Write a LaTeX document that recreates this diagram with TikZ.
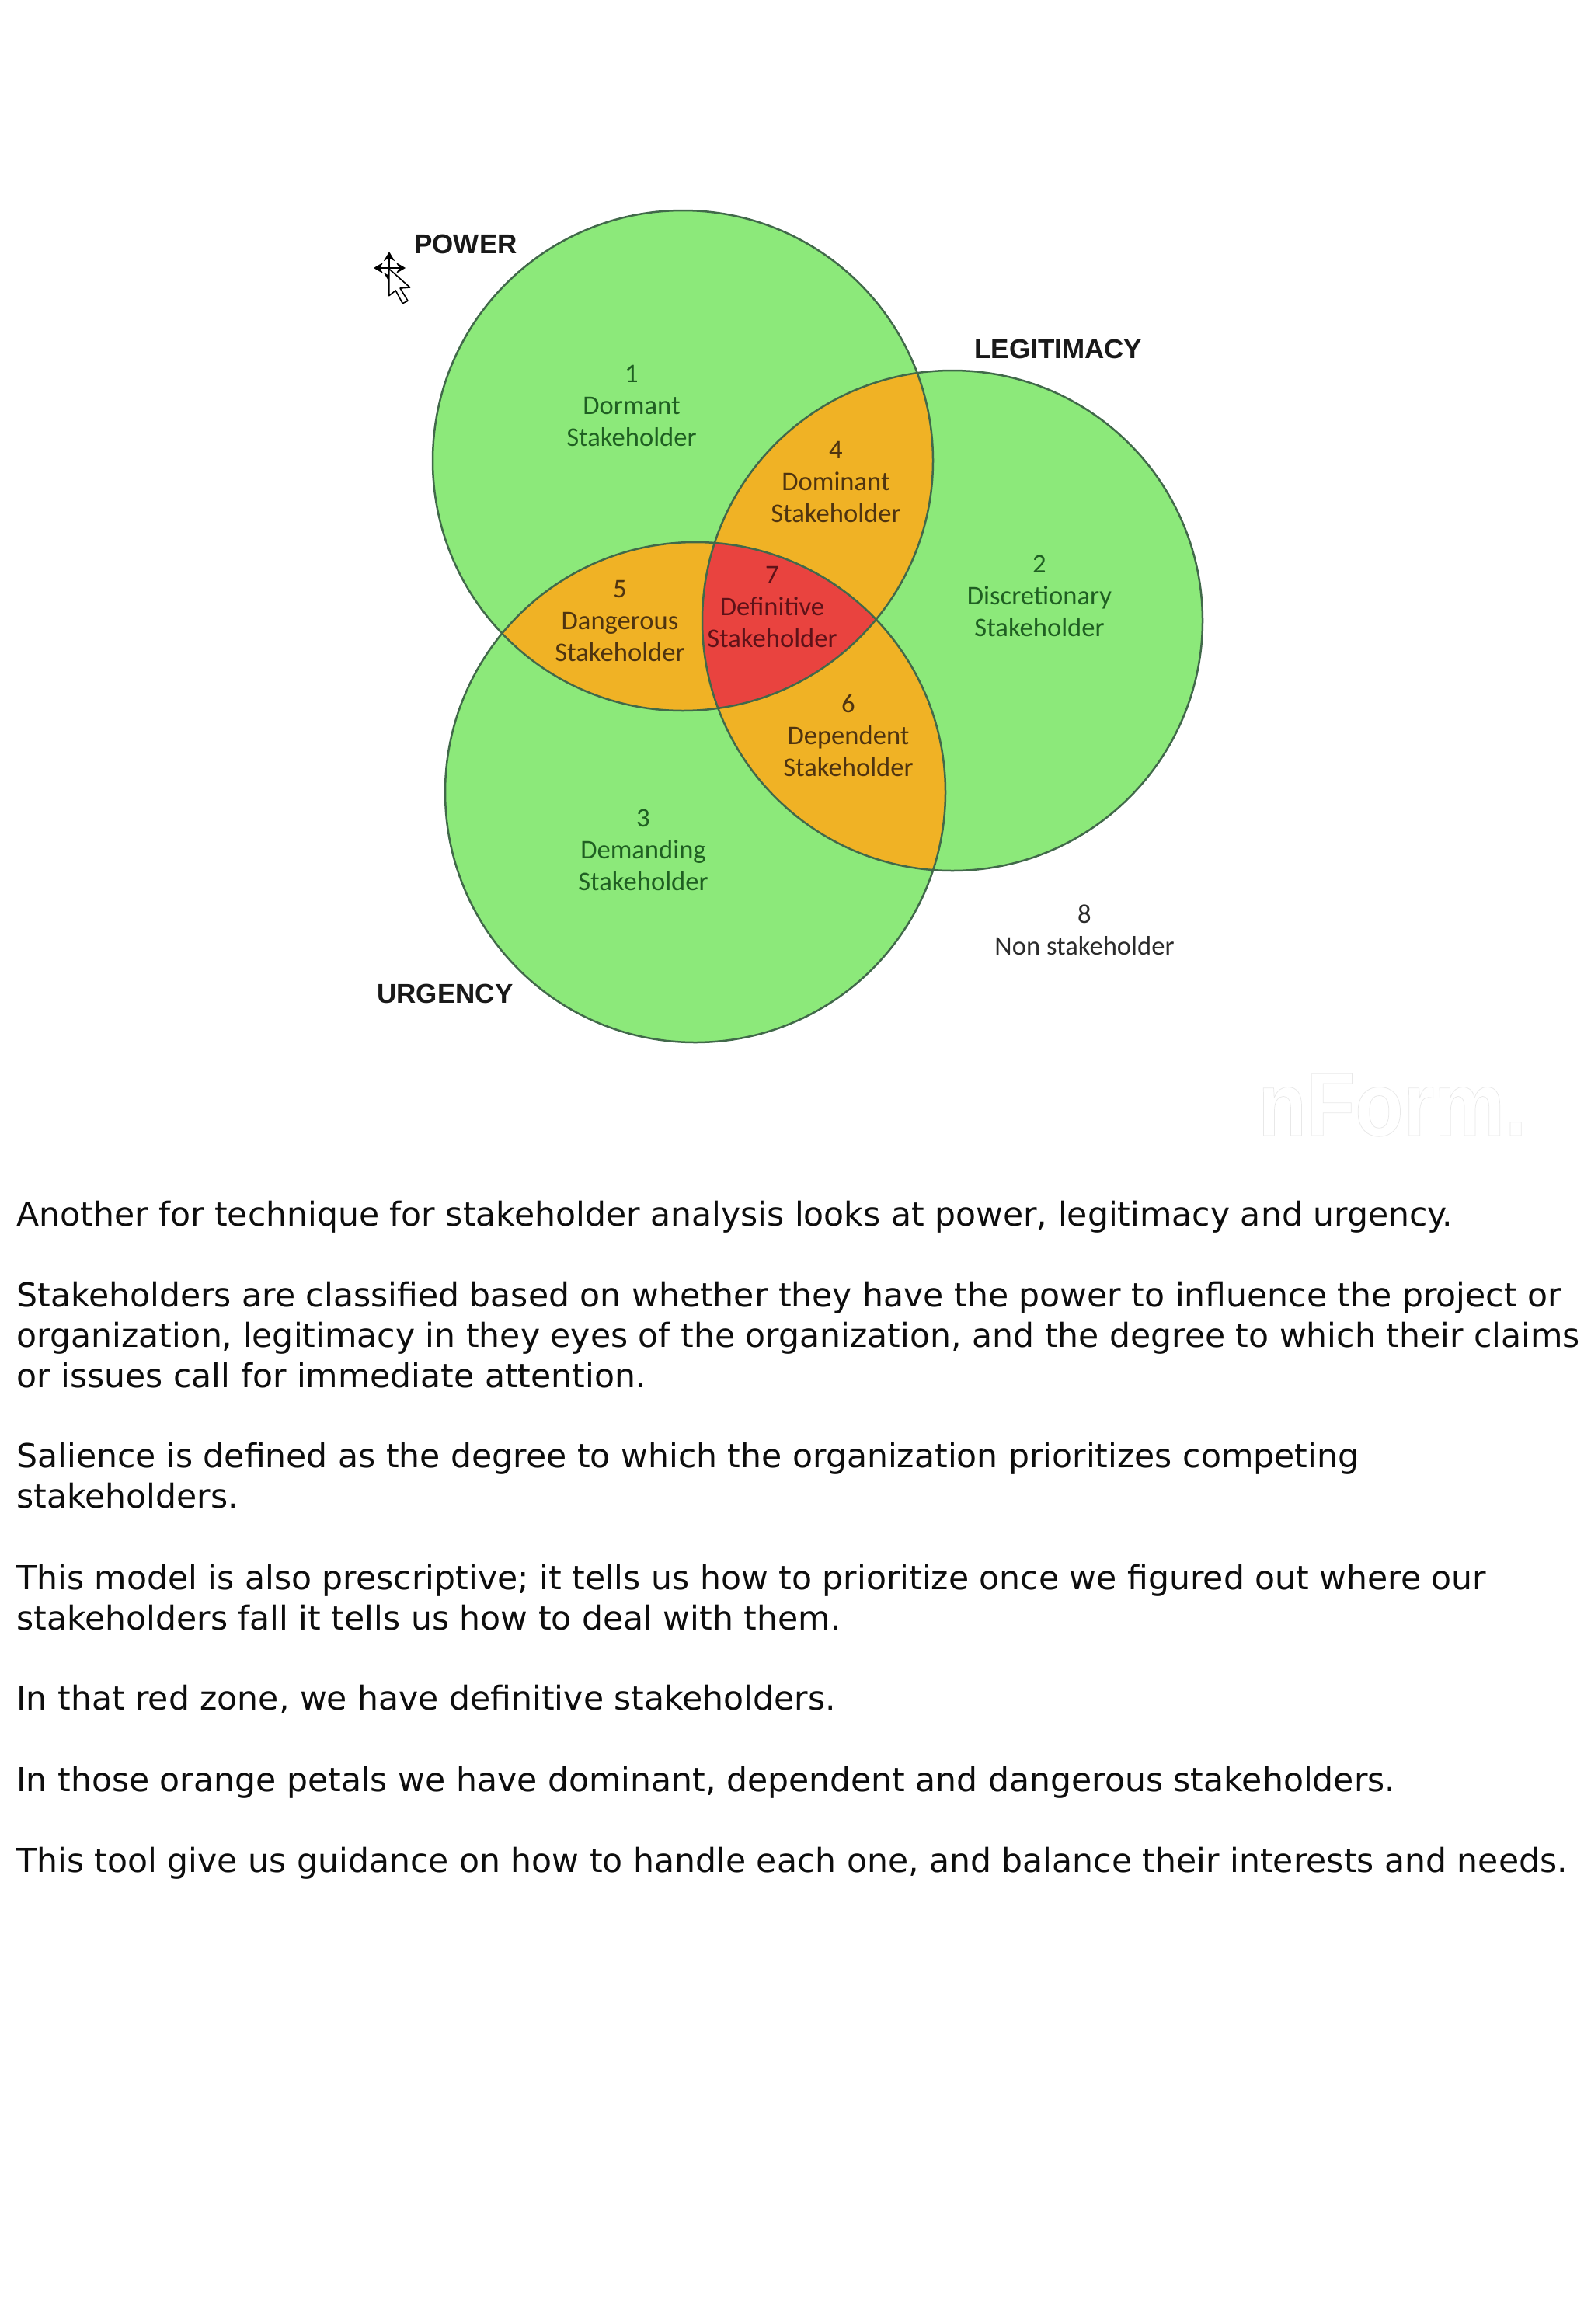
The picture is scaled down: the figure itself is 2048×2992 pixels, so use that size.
\documentclass[tikz,border=0pt]{standalone}
\usepackage{fontspec}
\setmainfont{DejaVu Sans}
\newfontfamily\lblfont{Carlito}
\newfontfamily\headfont{Liberation Sans}[BoldFont={Liberation Sans Bold}]
\usetikzlibrary{arrows.meta}
\definecolor{vgreen}{HTML}{8CE97A}
\definecolor{vorange}{HTML}{F0B225}
\definecolor{vred}{HTML}{E9433F}
\definecolor{vline}{HTML}{41694A}
\definecolor{tgreen}{HTML}{1F5F22}
\definecolor{torange}{HTML}{4F3410}
\definecolor{tred}{HTML}{5E1218}
\definecolor{tdark}{HTML}{2B2B2B}
\tikzset{
  x=0.5pt,y=-0.5pt,
  ring/.style={draw=vline,line width=1.25pt},
  lbl/.style={font=\lblfont\fontsize{17.3}{20.5}\selectfont,align=center,inner sep=0pt},
  head/.style={font=\headfont\bfseries\fontsize{17.5}{20}\selectfont,text=black!90,inner sep=0pt,anchor=base west},
  para/.style={font=\fontsize{21.27}{26}\selectfont,text=black!95,align=left,inner sep=0pt,anchor=base west},
  curs/.style={draw=black,fill=white,line width=0.8pt,line join=round},
  carrow/.style={draw=black,line width=1.2pt,-{Stealth[length=6pt,width=7pt]}}
}
\begin{document}
\begin{tikzpicture}
\useasboundingbox[fill=white] (0,0) rectangle (2048,2992);
\coordinate (P) at (879,593);
\coordinate (L) at (1226,799);
\coordinate (U) at (895,1020);
\def\rr{322}
% discs
\fill[vgreen] (P) circle[radius=\rr];
\fill[vgreen] (L) circle[radius=\rr];
\fill[vgreen] (U) circle[radius=\rr];
% pair overlaps
\begin{scope}
  \clip (P) circle[radius=\rr];
  \fill[vorange] (L) circle[radius=\rr];
  \fill[vorange] (U) circle[radius=\rr];
\end{scope}
\begin{scope}
  \clip (L) circle[radius=\rr];
  \fill[vorange] (U) circle[radius=\rr];
\end{scope}
\begin{scope}
  \clip (P) circle[radius=\rr];
  \clip (L) circle[radius=\rr];
  \fill[vred] (U) circle[radius=\rr];
\end{scope}
% outlines
\draw[ring] (P) circle[radius=\rr];
\draw[ring] (L) circle[radius=\rr];
\draw[ring] (U) circle[radius=\rr];
% labels
\node[lbl,text=tgreen] (l1) at (813,522) {1\\Dormant\\Stakeholder};
\node[lbl,text=tgreen] (l2) at (1338,767) {2\\Discretionary\\Stakeholder};
\node[lbl,text=tgreen] (l3) at (828,1094) {3\\Demanding\\Stakeholder};
\node[lbl,text=torange] (l4) at (1076,621) {4\\Dominant\\Stakeholder};
\node[lbl,text=torange] (l5) at (798,800) {5\\Dangerous\\Stakeholder};
\node[lbl,text=torange] (l6) at (1092,947) {6\\Dependent\\Stakeholder};
\node[lbl,text=tred] (l7) at (994,782) {7\\Definitive\\Stakeholder};
\node[lbl,text=tdark] (l8) at (1396,1197) {8\\Non stakeholder};
% set names
\node[head] (hp) at (533,326) {POWER};
\node[head] (hl) at (1254,461) {LEGITIMACY};
\node[head] (hu) at (485,1291) {URGENCY};
% cursor
\coordinate (cc) at (501,345);
\draw[carrow] (cc) -- ++(0,-21);
\draw[carrow] (cc) -- ++(-20,0);
\draw[carrow] (cc) -- ++(21,0);
\draw[carrow] (cc) -- ++(0,18);
\draw[curs] (500.7,346) -- (527.7,370) -- (515,371) -- (525,387.3) -- (518.3,390.7) -- (509.3,374) -- (500.7,380.7) -- cycle;
% watermark
\node[font=\headfont\bfseries\fontsize{58}{58}\selectfont,text=black!9,inner sep=0pt,anchor=base west] (wm) at (1619,1462) {\scalebox{0.88}[1]{\special{pdf:code 1 Tr 0.4 w}nForm.\special{pdf:code 0 Tr}}};
% body
\node[para] (t1) at (21,1578) {Another for technique for stakeholder analysis looks at power, legitimacy and urgency.};
\node[para,anchor=west] (t2) at (21,1719) {Stakeholders are classified based on whether they have the power to influence the project or\\organization, legitimacy in they eyes of the organization, and the degree to which their claims\\or issues call for immediate attention.};
\node[para,anchor=west] (t3) at (21,1900) {Salience is defined as the degree to which the organization prioritizes competing\\stakeholders.};
\node[para,anchor=west] (t4) at (21,2057) {This model is also prescriptive; it tells us how to prioritize once we figured out where our\\stakeholders fall it tells us how to deal with them.};
\node[para] (t5) at (21,2201) {In that red zone, we have definitive stakeholders.};
\node[para] (t6) at (21,2306) {In those orange petals we have dominant, dependent and dangerous stakeholders.};
\node[para] (t7) at (21,2410) {This tool give us guidance on how to handle each one, and balance their interests and needs.};
\end{tikzpicture}
\end{document}
